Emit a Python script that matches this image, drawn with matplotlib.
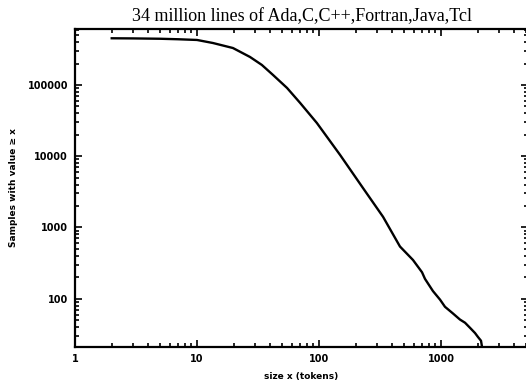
import matplotlib
matplotlib.use('Agg')
import matplotlib.pyplot as plt
from matplotlib.ticker import LogLocator, NullFormatter, FixedLocator, FixedFormatter

# token count x, samples with value >= x
size_x = [2, 3, 5, 7, 10, 13.5, 19.7, 27.2, 34, 42, 54.7, 70, 96, 149, 229,
          335, 461, 589, 699, 739, 859, 982, 1078, 1254, 1430, 1574,
          1730, 1900, 2010, 2128, 2170]
samples = [452000, 450000, 445000, 438000, 428000, 388000, 330000, 247000,
           191000, 138000, 90800, 56000, 29300, 10400, 3590,
           1410, 540, 350, 235, 190, 128, 97, 77, 62, 51, 46,
           39, 33, 29, 25.7, 21]

x_ticks = [1, 10, 100, 1000]
x_tick_labels = ['1', '10', '100', '1000']
y_ticks = [100, 1000, 10000, 100000]
y_tick_labels = ['100', '1000', '10000', '100000']

fig = plt.figure(figsize=(5.26, 3.83), dpi=100)
ax = fig.add_axes([75 / 526, 1 - 347 / 383, (528 - 75) / 526, (347 - 29) / 383])

ax.plot(size_x, samples, color='black', linewidth=1.7)

ax.set_xscale('log')
ax.set_yscale('log')
ax.set_xlim(1, 10 ** (453 / 122))
ax.set_ylim(21, 610000)

ax.xaxis.set_major_locator(FixedLocator(x_ticks))
ax.xaxis.set_major_formatter(FixedFormatter(x_tick_labels))
ax.yaxis.set_major_locator(FixedLocator(y_ticks))
ax.yaxis.set_major_formatter(FixedFormatter(y_tick_labels))
ax.xaxis.set_minor_locator(LogLocator(base=10, subs=range(2, 10)))
ax.yaxis.set_minor_locator(LogLocator(base=10, subs=range(2, 10)))
ax.xaxis.set_minor_formatter(NullFormatter())
ax.yaxis.set_minor_formatter(NullFormatter())

ax.tick_params(which='both', direction='in', top=True, right=True, width=1.2)
ax.tick_params(which='major', length=5, labelsize=7, pad=5)
ax.tick_params(which='minor', length=3)
for lab in ax.get_xticklabels() + ax.get_yticklabels():
    lab.set_fontweight('bold')

for s in ax.spines.values():
    s.set_linewidth(1.6)

ax.set_title('34 million lines of Ada,C,C++,Fortran,Java,Tcl',
             fontsize=13, family='Liberation Serif', pad=6)
ax.set_xlabel('size x (tokens)', fontsize=6.5, fontweight='bold', labelpad=6)
ax.set_ylabel('Samples with value \u2265 x', fontsize=6.5, fontweight='bold', labelpad=7)

fig.savefig('out.png', dpi=100)
